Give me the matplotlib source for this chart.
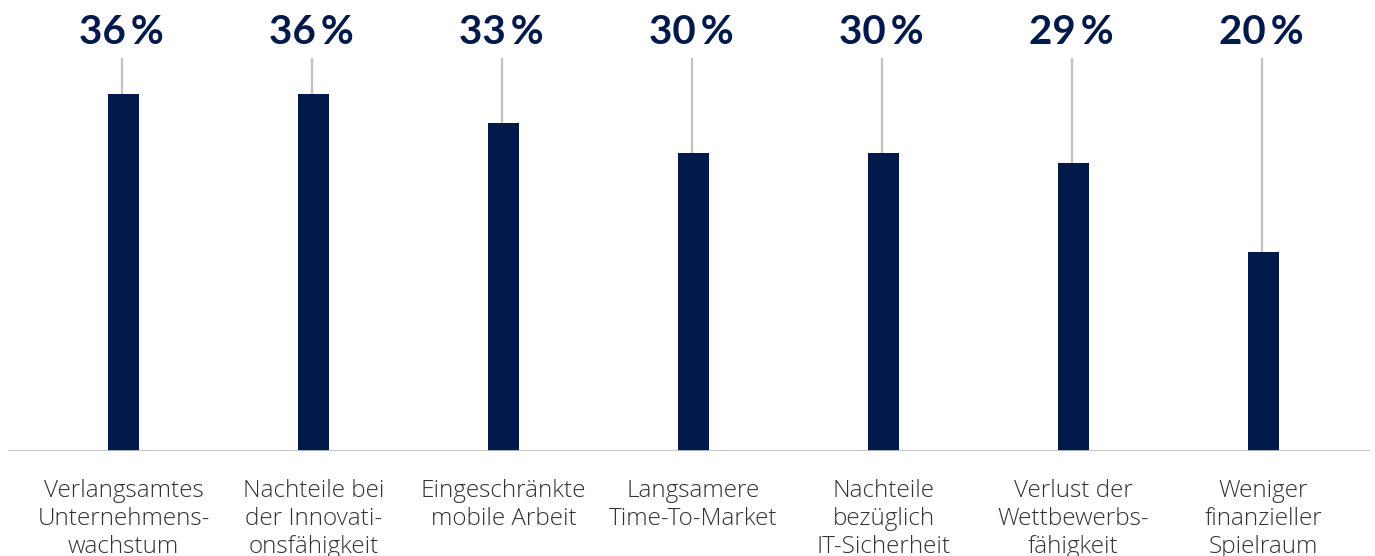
import matplotlib
matplotlib.use("Agg")
import matplotlib.pyplot as plt

categories = [
    "Verlangsamtes\nUnternehmens-\nwachstum",
    "Nachteile bei\nder Innovati-\nonsfähigkeit",
    "Eingeschränkte\nmobile Arbeit",
    "Langsamere\nTime-To-Market",
    "Nachteile\nbezüglich\nIT-Sicherheit",
    "Verlust der\nWettbewerbs-\nfähigkeit",
    "Weniger\nfinanzieller\nSpielraum",
]
values = [36, 36, 33, 30, 30, 29, 20]
value_labels = ["36\u2009%", "36\u2009%", "33\u2009%", "30\u2009%", "30\u2009%", "29\u2009%", "20\u2009%"]

W, H = 1375, 556
fig = plt.figure(figsize=(W / 100, H / 100), dpi=100)
base_px = 451
left_px, right_px = 8, 1370
ax = fig.add_axes([left_px / W, (H - base_px) / H, (right_px - left_px) / W, base_px / H])

navy = "#02194B"
gray = "#C0C0C0"
pxu = 9.93
step = 190.0
x0 = 123.5
ax.set_xlim((left_px - x0) / step, (right_px - x0) / step)
ax.set_ylim(0, base_px / pxu)

xs = list(range(len(values)))
ax.bar(xs, values, width=31 / step, color=navy, zorder=3)

label_y = (base_px - 33) / pxu
line_top = (base_px - 58) / pxu
for x, v, lab in zip(xs, values, value_labels):
    ax.plot([x - 1.5 / step, x - 1.5 / step], [v, line_top], color=gray, lw=1.6, zorder=2, solid_capstyle="butt")
    ax.text(x - 2 / step, label_y, lab, ha="center", va="center", fontsize=29,
            fontweight="bold", color=navy, family=["Lato", "DejaVu Sans"])

ax.axhline(0, color=gray, lw=2, zorder=4)
for s in ax.spines.values():
    s.set_visible(False)
ax.set_yticks([])
ax.set_xticks(xs)
ax.set_xticklabels(categories, fontsize=17.5, color="#333333", family=["Open Sans", "DejaVu Sans"],
                   fontweight="light", linespacing=1.24)
ax.tick_params(axis="x", length=0, pad=20)

fig.savefig("out.png", dpi=100)
